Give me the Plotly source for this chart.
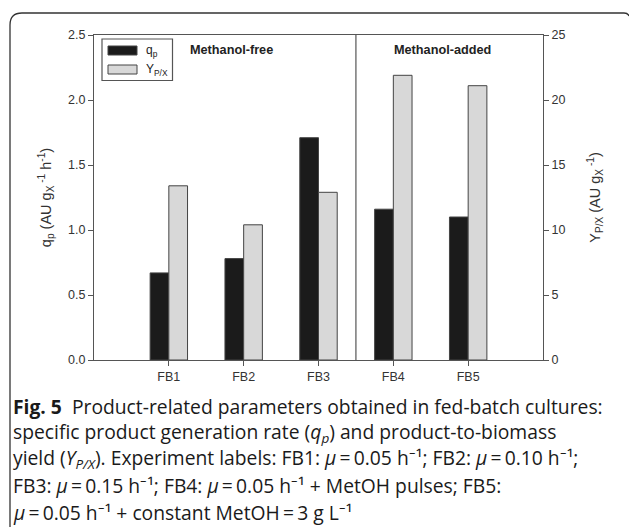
import plotly.graph_objects as go

# ---- data ----
categories = ["FB1", "FB2", "FB3", "FB4", "FB5"]
cat_pos = [1, 2, 3, 4, 5]
qp_values = [0.67, 0.78, 1.71, 1.16, 1.10]
ypx_values = [13.4, 10.4, 12.9, 21.9, 21.1]
qp_name = "q<sub>p</sub>"
ypx_name = "Y<sub>P/X</sub>"
group_labels = ["Methanol-free", "Methanol-added"]
left_ticks = [0.0, 0.5, 1.0, 1.5, 2.0, 2.5]
right_ticks = [0, 5, 10, 15, 20, 25]

W, H = 629, 527
L, R, T, B = 94, 543, 35, 360  # plot area in pixels


def px(x):
    return (x - L) / (R - L)


def py(y):
    return (B - y) / (B - T)


AX = "#555555"
FONT = "Liberation Sans, Arial, sans-serif"

fig = go.Figure()
fig.add_trace(go.Bar(
    x=cat_pos, y=qp_values, name=qp_name, yaxis="y",
    width=0.25, offset=-0.25,
    marker=dict(color="#1b1b1b", line=dict(color="#444444", width=1)),
    showlegend=False,
))
fig.add_trace(go.Bar(
    x=cat_pos, y=ypx_values, name=ypx_name, yaxis="y2",
    width=0.25, offset=0.0,
    marker=dict(color="#d8d8d8", line=dict(color="#444444", width=1)),
    showlegend=False,
))

shapes = []
# divider between groups
shapes.append(dict(type="line", xref="x", yref="paper", x0=3.5, x1=3.5, y0=0, y1=1,
                   line=dict(color=AX, width=1.2)))
# manual legend
shapes.append(dict(type="rect", xref="paper", yref="paper",
                   x0=px(102), x1=px(172.5), y0=py(80.5), y1=py(39),
                   line=dict(color=AX, width=1.2), fillcolor="rgba(0,0,0,0)"))
shapes.append(dict(type="rect", xref="paper", yref="paper",
                   x0=px(108), x1=px(137), y0=py(55), y1=py(46),
                   line=dict(color="#444444", width=1), fillcolor="#1b1b1b"))
shapes.append(dict(type="rect", xref="paper", yref="paper",
                   x0=px(108), x1=px(137), y0=py(74), y1=py(65),
                   line=dict(color="#444444", width=1), fillcolor="#d8d8d8"))
# figure frame (rounded top-left corner)
path = "M {:.5f},{:.5f} L {:.5f},{:.5f} Q {:.5f},{:.5f} {:.5f},{:.5f} L {:.5f},{:.5f} Q {:.5f},{:.5f} {:.5f},{:.5f}".format(
    px(10), py(528), px(10), py(25), px(10), py(13), px(22), py(13),
    px(624), py(13), px(628), py(13), px(629), py(16))
shapes.append(dict(type="path", xref="paper", yref="paper", path=path,
                   line=dict(color="#333333", width=1.3)))

annotations = []
annotations.append(dict(x=px(144), y=py(50.5), xref="paper", yref="paper", text=qp_name,
                        showarrow=False, xanchor="left", yanchor="middle",
                        font=dict(family=FONT, size=12, color="#222")))
annotations.append(dict(x=px(144), y=py(70), xref="paper", yref="paper", text=ypx_name,
                        showarrow=False, xanchor="left", yanchor="middle",
                        font=dict(family=FONT, size=12, color="#222")))
annotations.append(dict(x=px(231), y=py(50), xref="paper", yref="paper",
                        text="<b>" + group_labels[0] + "</b>", showarrow=False,
                        xanchor="center", yanchor="middle",
                        font=dict(family=FONT, size=12.7, color="#222")))
annotations.append(dict(x=px(442), y=py(50), xref="paper", yref="paper",
                        text="<b>" + group_labels[1] + "</b>", showarrow=False,
                        xanchor="center", yanchor="middle",
                        font=dict(family=FONT, size=12.7, color="#222")))

EQ = "\u2009=\u2009"
INV = "\u207b\u00b9"  # superscript minus one
caption = [
    "<b>Fig. 5</b>  Product-related parameters obtained in fed-batch cultures:",
    "specific product generation rate (<i>q<sub>p</sub></i>) and product-to-biomass",
    "yield (<i>Y<sub>P/X</sub></i>). Experiment labels: FB1: <i>μ</i>" + EQ + "0.05 h" + INV + "; FB2: <i>μ</i>" + EQ + "0.10 h" + INV + ";",
    "FB3: <i>μ</i>" + EQ + "0.15 h" + INV + "; FB4: <i>μ</i>" + EQ + "0.05 h" + INV + " + MetOH pulses; FB5:",
    "<i>μ</i>" + EQ + "0.05 h" + INV + " + constant MetOH" + EQ + "3 g L" + INV,
]
cap_y = [406, 432, 459, 486, 512]
for t, yy in zip(caption, cap_y):
    annotations.append(dict(x=px(11), y=py(yy), xref="paper", yref="paper", text=t,
                            showarrow=False, xanchor="left", yanchor="middle",
                            font=dict(family="Open Sans, sans-serif", size=19.3, color="#1a1a1a")))

fig.update_layout(
    width=W, height=H,
    margin=dict(l=L, r=W - R, t=T, b=H - B, autoexpand=False),
    paper_bgcolor="white", plot_bgcolor="white",
    barmode="overlay",
    shapes=shapes, annotations=annotations,
    font=dict(family=FONT, color="#333333"),
    xaxis=dict(range=[0, 6], tickvals=cat_pos, ticktext=categories,
               showline=True, linecolor=AX, linewidth=1.2, mirror=True,
               ticks="outside", ticklen=5, tickcolor=AX, tickwidth=1.2,
               showgrid=False, zeroline=False,
               tickfont=dict(family=FONT, size=12.5, color="#333")),
    yaxis=dict(range=[0, 2.5], tickvals=left_ticks,
               ticktext=["{:.1f}".format(v) for v in left_ticks],
               showline=True, linecolor=AX, linewidth=1.2,
               ticks="outside", ticklen=5, tickcolor=AX, tickwidth=1.2,
               showgrid=False, zeroline=False,
               tickfont=dict(family=FONT, size=12.5, color="#333"),
               title=dict(text="q<sub>p</sub> (AU g<sub>X</sub><sup> -1</sup> h<sup>-1</sup>)",
                          font=dict(family=FONT, size=14.5, color="#333"), standoff=12)),
    yaxis2=dict(range=[0, 25], tickvals=right_ticks, overlaying="y", side="right",
                showline=True, linecolor=AX, linewidth=1.2,
                ticks="outside", ticklen=5, tickcolor=AX, tickwidth=1.2,
                showgrid=False, zeroline=False,
                tickfont=dict(family=FONT, size=12.5, color="#333"),
                title=dict(text="Y<sub>P/X</sub> (AU g<sub>X</sub><sup> -1</sup>)",
                           font=dict(family=FONT, size=14.5, color="#333"), standoff=25)),
)

fig.write_html("out.html")
